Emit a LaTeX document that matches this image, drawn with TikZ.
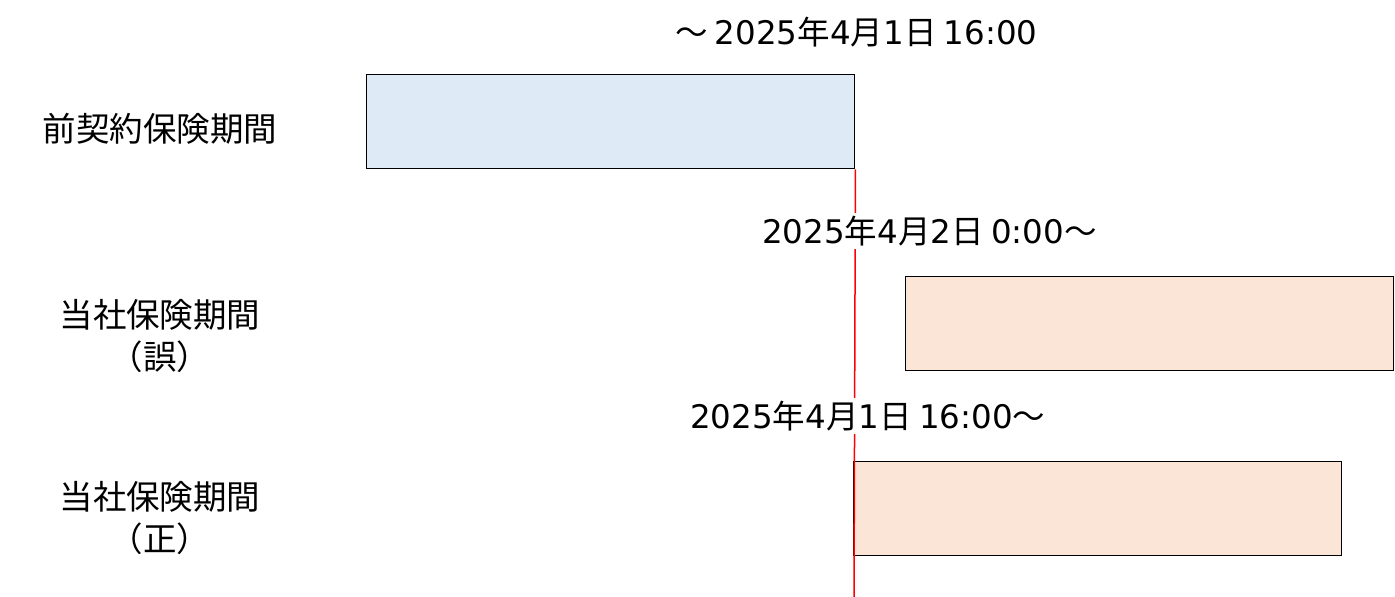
\documentclass[tikz,border=0pt]{standalone}
\usepackage{fontspec}
\setmainfont{Noto Sans CJK JP}
\newfontfamily\latfont{DejaVu Sans}
\newcommand\latn[1]{{\latfont #1}}
\definecolor{prevfill}{HTML}{DEEAF6}
\definecolor{curfill}{HTML}{FBE5D6}
\definecolor{redline}{HTML}{FF0000}
\begin{document}
\begin{tikzpicture}[x=1pt,y=-1pt,
  bar/.style={draw=black, line width=1.4pt, minimum width=488pt, minimum height=94pt, anchor=north west, inner sep=0pt},
  datelab/.style={fill=white, inner sep=3pt, anchor=west, font=\fontsize{32.5}{36}\selectfont, text=black},
  sidelab/.style={fill=white, inner sep=3pt, align=center, font=\fontsize{33.5}{42}\selectfont, text=black}]
\fill[white] (0,0) rectangle (1395,597);
\useasboundingbox (0,0) rectangle (1395,597);
% bars
\node[bar, fill=prevfill] (prev) at (366,74) {};
\node[bar, fill=curfill] (wrong) at (905,276) {};
\node[bar, fill=curfill] (right) at (853,461) {};
% red line
\coordinate (bot) at (854,597);
\draw[redline, line width=1.5pt] (prev.south east) -- (bot);
% date labels
\node[datelab] (d1) at (672,32) {～ \latn{2025}年\latn{4}月\latn{1}日 \latn{16:00}};
\node[datelab] (d2) at (759,231) {\latn{2025}年\latn{4}月\latn{2}日 \latn{0:00}～};
\node[datelab] (d3) at (687,416) {\latn{2025}年\latn{4}月\latn{1}日 \latn{16:00}～};
% side labels
\node[sidelab] (l1) at (160,129) {前契約保険期間};
\node[sidelab] (l2) at (160,336) {当社保険期間\\（誤）};
\node[sidelab] (l3) at (160,518) {当社保険期間\\（正）};
\end{tikzpicture}
\end{document}
